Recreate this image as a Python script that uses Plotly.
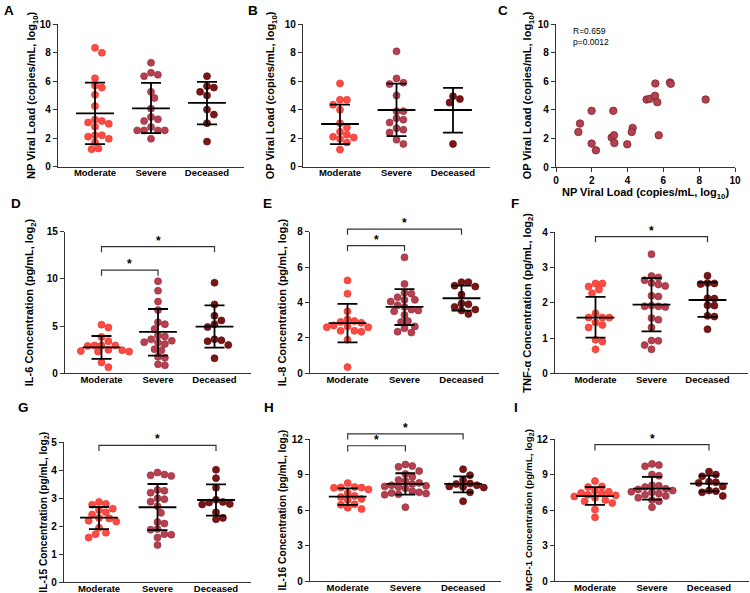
import plotly.graph_objects as go

W, H = 750, 593
FONT = 'Liberation Sans, Arial, sans-serif'
GROUPS = ['Moderate', 'Severe', 'Deceased']
FILL = ['#FF4B43', '#B6404F', '#7A1616']
EDGE = ['#E8352E', '#93303D', '#5C0D0D']
AXIS = '#333333'

# --- A: NP viral load
np_moderate = [8.35, 8.0, 6.2, 5.7, 5.55, 5.05, 4.25, 3.3, 3.2, 3.1, 3.0, 2.8, 2.2, 2.2, 2.1, 1.95, 1.7, 1.27, 1.22]
np_severe = [7.3, 6.6, 6.45, 6.35, 5.25, 4.82, 4.07, 3.48, 3.32, 3.2, 2.78, 2.54, 2.54, 2.54, 2.54, 1.95]
np_deceased = [6.35, 5.65, 5.55, 5.25, 5.0, 4.0, 3.65, 3.05, 1.75]
np_mean = [3.74, 4.09, 4.47]
np_hi = [5.9, 5.88, 5.95]
np_lo = [1.58, 2.35, 2.96]

# --- B: OP viral load
op_moderate = [5.85, 4.7, 4.7, 4.35, 4.0, 3.05, 2.75, 2.45, 2.25, 2.1, 2.05, 1.95, 1.7, 1.2]
op_severe = [8.1, 6.2, 5.9, 5.8, 5.0, 3.9, 3.9, 3.4, 3.3, 3.1, 2.7, 2.6, 2.4, 1.9, 1.6]
op_deceased = [4.95, 4.75, 4.5, 1.6]
op_mean = [3.0, 3.98, 3.98]
op_hi = [4.36, 5.83, 5.53]
op_lo = [1.59, 2.15, 2.39]

# --- C: NP vs OP correlation
c_np = [1.25, 1.34, 1.99, 1.99, 2.23, 3.2, 3.11, 3.24, 3.26, 3.98, 4.28, 4.23, 5.06, 5.25, 5.53, 5.55, 5.66, 5.74, 6.37, 6.41, 8.36]
c_op = [2.45, 3.04, 3.93, 1.64, 1.17, 3.93, 2.06, 2.22, 1.68, 1.59, 2.73, 2.45, 4.72, 4.77, 4.98, 5.84, 4.53, 2.22, 5.91, 5.82, 4.72]

# --- D: IL-6
il6_moderate = [5.15, 4.85, 3.85, 3.4, 2.95, 2.95, 2.95, 2.9, 2.5, 2.45, 2.35, 2.3, 2.3, 1.15, 0.65]
il6_severe = [9.75, 8.75, 7.6, 6.7, 5.4, 5.2, 4.7, 4.0, 3.9, 3.6, 3.45, 3.3, 3.25, 3.1, 2.55, 2.45, 1.75, 1.65, 0.95, 0.85]
il6_deceased = [9.6, 7.3, 6.1, 5.6, 5.2, 4.9, 3.6, 3.5, 3.4, 3.0, 1.6]
il6_mean = [2.75, 4.38, 4.94]
il6_hi = [3.95, 6.81, 7.2]
il6_lo = [1.52, 1.87, 2.72]

# --- E: IL-8
il8_moderate = [5.25, 4.5, 3.5, 3.05, 2.95, 2.9, 2.85, 2.7, 2.65, 2.6, 2.6, 2.4, 2.4, 2.35, 1.9, 0.35]
il8_severe = [6.55, 5.05, 4.55, 4.5, 4.3, 4.15, 4.15, 4.05, 3.85, 3.75, 3.6, 3.55, 3.5, 3.3, 2.95, 2.9, 2.65, 2.55, 2.35, 2.3]
il8_deceased = [5.15, 5.15, 4.95, 4.9, 4.45, 3.95, 3.9, 3.75, 3.6, 3.55, 3.35]
il8_mean = [2.84, 3.75, 4.24]
il8_hi = [3.92, 4.76, 4.95]
il8_lo = [1.75, 2.73, 3.54]

# --- F: TNF-a
tnf_moderate = [2.55, 2.55, 2.46, 2.38, 2.27, 1.7, 1.58, 1.58, 1.58, 1.44, 1.37, 1.3, 0.95, 0.9, 0.68]
tnf_severe = [3.38, 2.76, 2.72, 2.64, 2.56, 2.52, 2.48, 2.2, 2.18, 1.92, 1.9, 1.9, 1.88, 1.57, 1.52, 1.3, 0.93, 0.92, 0.8, 0.68]
tnf_deceased = [2.77, 2.56, 2.55, 2.53, 2.13, 2.12, 1.93, 1.92, 1.63, 1.61, 1.25]
tnf_mean = [1.58, 1.95, 2.08]
tnf_hi = [2.17, 2.7, 2.58]
tnf_lo = [1.01, 1.19, 1.6]

# --- G: IL-15
il15_moderate = [2.87, 2.8, 2.77, 2.63, 2.58, 2.5, 2.42, 2.3, 2.28, 2.2, 2.17, 1.95, 1.77, 1.72, 1.6]
il15_severe = [3.92, 3.85, 3.82, 3.8, 3.3, 3.27, 3.2, 3.0, 2.97, 2.88, 2.72, 2.48, 2.15, 2.1, 1.9, 1.88, 1.72, 1.7, 1.6, 1.33]
il15_deceased = [4.02, 3.72, 3.38, 2.95, 2.87, 2.85, 2.8, 2.78, 2.5, 2.3, 2.25]
il15_mean = [2.31, 2.68, 2.94]
il15_hi = [2.69, 3.51, 3.5]
il15_lo = [1.9, 1.86, 2.38]

# --- H: IL-16
il16_moderate = [8.28, 7.95, 7.92, 7.9, 7.88, 7.75, 7.45, 7.2, 7.1, 6.95, 6.85, 6.5, 6.45, 6.2, 6.1]
il16_severe = [9.85, 9.72, 9.65, 9.3, 9.05, 8.8, 8.55, 8.45, 8.3, 8.2, 8.1, 8.05, 8.0, 7.95, 7.85, 7.6, 7.5, 7.45, 7.4, 7.35, 7.3, 6.25]
il16_deceased = [9.45, 8.95, 8.55, 8.25, 8.2, 8.1, 8.0, 7.95, 7.9, 7.5, 6.75]
il16_mean = [7.14, 8.21, 8.21]
il16_hi = [7.84, 9.11, 8.85]
il16_lo = [6.44, 7.31, 7.5]

# --- I: MCP-1
mcp1_moderate = [8.45, 8.0, 7.95, 7.65, 7.55, 7.45, 7.4, 7.3, 7.25, 7.15, 7.05, 6.85, 6.75, 6.6, 6.05, 5.4]
mcp1_severe = [9.9, 9.8, 9.7, 9.0, 8.9, 8.1, 8.05, 7.95, 7.8, 7.75, 7.65, 7.55, 7.5, 7.4, 7.3, 7.2, 7.05, 6.85, 6.75, 6.25]
mcp1_deceased = [9.25, 9.0, 8.85, 8.4, 8.35, 8.3, 8.0, 7.65, 7.6, 7.5, 7.2]
mcp1_mean = [7.19, 7.81, 8.23]
mcp1_hi = [7.95, 8.8, 8.91]
mcp1_lo = [6.44, 6.89, 7.59]

# significance brackets: (group a, group b, height)
il6_brackets = [(0, 1, 10.94), (0, 2, 13.41)]
il8_brackets = [(0, 1, 7.21), (0, 2, 8.15)]
tnf_brackets = [(0, 2, 3.88)]
il15_brackets = [(0, 2, 4.89)]
il16_brackets = [(0, 1, 11.43), (0, 2, 12.44)]
mcp1_brackets = [(0, 2, 11.52)]

VL = '(copies/mL, log<sub>10</sub>)'
CONC = 'Concentration (pg/mL, log<sub>2</sub>)'

# geometry in px: y-axis x, first category x, category spacing, top tick y, zero y
panels = [
    dict(ax=1, vals=[np_moderate, np_severe, np_deceased], mean=np_mean, hi=np_hi, lo=np_lo,
         ymax=10, dtick=2, title='NP Viral Load ' + VL, brackets=[], standoff=1, tsize=11,
         geo=(58, 95, 56, 24.3, 166.5)),
    dict(ax=2, vals=[op_moderate, op_severe, op_deceased], mean=op_mean, hi=op_hi, lo=op_lo,
         ymax=10, dtick=2, title='OP Viral Load ' + VL, brackets=[], standoff=7, tsize=11,
         geo=(303, 340, 56.5, 24.3, 166.7)),
    dict(ax=4, vals=[il6_moderate, il6_severe, il6_deceased], mean=il6_mean, hi=il6_hi, lo=il6_lo,
         ymax=15, dtick=5, title='IL-6 ' + CONC, brackets=il6_brackets, standoff=10, tsize=11,
         geo=(65, 101.5, 56.5, 231.7, 373.3)),
    dict(ax=5, vals=[il8_moderate, il8_severe, il8_deceased], mean=il8_mean, hi=il8_hi, lo=il8_lo,
         ymax=8, dtick=2, title='IL-8 ' + CONC, brackets=il8_brackets, standoff=8, tsize=11,
         geo=(310, 347.5, 57, 231.7, 373.3)),
    dict(ax=6, vals=[tnf_moderate, tnf_severe, tnf_deceased], mean=tnf_mean, hi=tnf_hi, lo=tnf_lo,
         ymax=4, dtick=1, title='TNF-α ' + CONC, brackets=tnf_brackets, standoff=8, tsize=11,
         geo=(555, 595.5, 56, 232.3, 373.3)),
    dict(ax=7, vals=[il15_moderate, il15_severe, il15_deceased], mean=il15_mean, hi=il15_hi, lo=il15_lo,
         ymax=5, dtick=1, title='IL-15 ' + CONC, brackets=il15_brackets, standoff=0, tsize=10.2,
         geo=(64, 99, 58.5, 442.3, 582.3)),
    dict(ax=8, vals=[il16_moderate, il16_severe, il16_deceased], mean=il16_mean, hi=il16_hi, lo=il16_lo,
         ymax=12, dtick=3, title='IL-16 ' + CONC, brackets=il16_brackets, standoff=3, tsize=10.2,
         geo=(310, 347.7, 57.7, 439, 581.3)),
    dict(ax=9, vals=[mcp1_moderate, mcp1_severe, mcp1_deceased], mean=mcp1_mean, hi=mcp1_hi, lo=mcp1_lo,
         ymax=12, dtick=3, title='MCP-1 ' + CONC, brackets=mcp1_brackets, standoff=2, tsize=9.8,
         geo=(555, 595, 57, 439, 581.3)),
]

letters = [('A', 2, 1), ('B', 246, 1), ('C', 496, 1), ('D', 9, 194), ('E', 261, 194),
           ('F', 509, 194), ('G', 16, 398), ('H', 262, 398), ('I', 512, 398)]

DOT = 7
tickfont = dict(family=FONT, size=10, color='black', weight='bold')
catfont = dict(family=FONT, size=9.5, color='black', weight='bold')


def swarm(values, ppu, ppx, d=6.9):
    # simple greedy beeswarm in pixel space, returns x offsets in category units
    order = sorted(range(len(values)), key=lambda k: -values[k])
    cands = [0.0]
    for k in range(1, 20):
        cands += [k * d / 2, -k * d / 2]
    placed, offs = [], [0.0] * len(values)
    for k in order:
        y = values[k] * ppu
        for c in cands:
            if all((c - px) ** 2 + (y - py) ** 2 >= d * d for px, py in placed):
                break
        placed.append((c, y))
        offs[k] = c / ppx
    return offs


fig = go.Figure()
layout = {}
annotations = []

for p in panels:
    i = p['ax']
    x0, c0, s, ytop, ybot = p['geo']
    gap = (c0 - x0) / s
    left, right = -gap, 2 + gap
    x1 = x0 + (right - left) * s
    ppu = (ybot - ytop) / p['ymax']
    xa, ya = f'x{i}', f'y{i}'

    for g in range(3):
        vals = p['vals'][g]
        offs = swarm(vals, ppu, s)
        fig.add_trace(go.Scatter(
            x=[g + o for o in offs], y=vals, mode='markers', xaxis=xa, yaxis=ya,
            marker=dict(size=DOT, color=FILL[g], line=dict(color=EDGE[g], width=0.7)),
            cliponaxis=False, showlegend=False, hoverinfo='skip'))

    mean = p['mean']
    fig.add_trace(go.Scatter(
        x=[0, 1, 2], y=mean, mode='markers', xaxis=xa, yaxis=ya,
        marker=dict(symbol='line-ew', size=27, line=dict(color='black', width=1.8)),
        error_y=dict(type='data', symmetric=False,
                     array=[h - m for h, m in zip(p['hi'], mean)],
                     arrayminus=[m - l for m, l in zip(mean, p['lo'])],
                     color='black', thickness=1.8, width=10),
        cliponaxis=False, showlegend=False, hoverinfo='skip'))

    layout[f'xaxis{i}'] = dict(
        domain=[x0 / W, x1 / W], range=[left, right], anchor=ya, automargin=False,
        showline=True, linecolor=AXIS, linewidth=1.3, ticks='', ticklabelstandoff=-3,
        tickvals=[0, 1, 2], ticktext=GROUPS, tickfont=catfont,
        showgrid=False, zeroline=False, fixedrange=True)
    layout[f'yaxis{i}'] = dict(
        domain=[(H - ybot) / H, (H - ytop) / H], range=[0, p['ymax']], anchor=xa,
        automargin=False,
        showline=True, linecolor=AXIS, linewidth=1.3, ticks='outside', ticklen=4,
        tickwidth=1.3, tickcolor=AXIS,
        tickvals=list(range(0, p['ymax'] + 1, p['dtick'])), tickfont=tickfont,
        title=dict(text=p['title'], standoff=p['standoff'],
                   font=dict(family=FONT, size=p['tsize'], color='black', weight='bold')),
        showgrid=False, zeroline=False, fixedrange=True)

    if p['brackets']:
        # invisible taller axis with the same scale, so brackets can rise above the top tick
        ptop = ytop - 42
        yb = f'y{10 + i}'
        layout[f'yaxis{10 + i}'] = dict(
            domain=[(H - ybot) / H, (H - ptop) / H],
            range=[0, p['ymax'] * (ybot - ptop) / (ybot - ytop)],
            anchor=xa, visible=False, fixedrange=True, automargin=False)
        drop = 0.04 * p['ymax']
        for a, b, h in p['brackets']:
            fig.add_trace(go.Scatter(
                x=[a, a, b, b], y=[h - drop, h, h, h - drop], mode='lines',
                xaxis=xa, yaxis=yb, line=dict(color=AXIS, width=1.2),
                showlegend=False, hoverinfo='skip'))
            annotations.append(dict(
                x=(a + b) / 2, y=h, xref=xa, yref=yb, text='<b>*</b>', showarrow=False,
                yanchor='bottom', yshift=-3, font=dict(family=FONT, size=12, color='black')))

# --- C scatter
titlefont = dict(family=FONT, size=11, color='black', weight='bold')
fig.add_trace(go.Scatter(
    x=c_np, y=c_op, mode='markers', xaxis='x3', yaxis='y3',
    marker=dict(size=7.5, color='#B5404E', line=dict(color='#7B2330', width=0.8)),
    cliponaxis=False, showlegend=False, hoverinfo='skip'))
layout['xaxis3'] = dict(
    domain=[556 / W, 735 / W], range=[0, 10], anchor='y3', automargin=False,
    showline=True, linecolor=AXIS, linewidth=1.3, ticks='outside', ticklen=4,
    tickwidth=1.3, tickcolor=AXIS, tickvals=list(range(0, 11, 2)), tickfont=tickfont,
    title=dict(text='NP Viral Load ' + VL, font=titlefont, standoff=3),
    showgrid=False, zeroline=False, fixedrange=True)
layout['yaxis3'] = dict(
    domain=[(H - 167) / H, (H - 24) / H], range=[0, 10], anchor='x3', automargin=False,
    showline=True, linecolor=AXIS, linewidth=1.3, ticks='outside', ticklen=4,
    tickwidth=1.3, tickcolor=AXIS, tickvals=list(range(0, 11, 2)), tickfont=tickfont,
    title=dict(text='OP Viral Load ' + VL, font=titlefont, standoff=3),
    showgrid=False, zeroline=False, fixedrange=True)
annotations.append(dict(
    x=0.85, y=10.0, xref='x3', yref='y3', text='R=0.659<br>p=0.0012', showarrow=False,
    xanchor='left', yanchor='top', align='left',
    font=dict(family=FONT, size=8.5, color='black')))

for letter, lx, ly in letters:
    annotations.append(dict(
        x=lx / W, y=1 - ly / H, xref='paper', yref='paper', text=f'<b>{letter}</b>',
        showarrow=False, xanchor='left', yanchor='top',
        font=dict(family=FONT, size=13.5, color='black')))

fig.update_layout(
    width=W, height=H, margin=dict(l=0, r=0, t=0, b=0, autoexpand=False),
    paper_bgcolor='white', plot_bgcolor='rgba(0,0,0,0)',
    font=dict(family=FONT, color='black'),
    annotations=annotations, **layout)

# the page body has a default 8px margin; drop it so the figure sits at the window corner
fig.write_html("out.html", post_script="document.body.style.margin='0';",
               config={'displayModeBar': False})
